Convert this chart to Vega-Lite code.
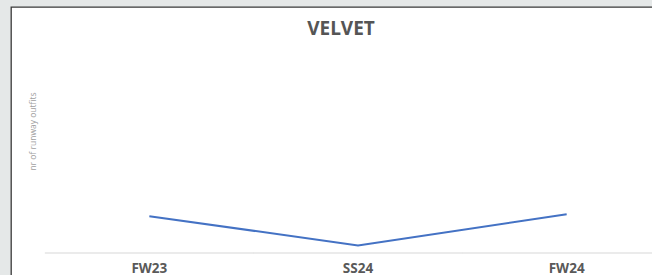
{
  "$schema": "https://vega.github.io/schema/vega-lite/v6.json",
  "width": 660,
  "height": 269,
  "autosize": {"type": "none"},
  "padding": {"left": 11, "top": 7, "right": 0, "bottom": 0},
  "background": "#e5e8e8",
  "config": {
    "view": {"fill": "white", "stroke": "#3a3a3a", "strokeWidth": 1.3},
    "font": "Open Sans"
  },
  "title": {
    "text": "VELVET",
    "anchor": "middle",
    "frame": "group",
    "orient": "top",
    "offset": -47,
    "baseline": "alphabetic",
    "font": "Open Sans",
    "fontSize": 19,
    "fontWeight": "bold",
    "color": "#555555"
  },
  "data": {
    "values": [
      {"season": "FW23", "outfits": 4.6},
      {"season": "SS24", "outfits": 0.95},
      {"season": "FW24", "outfits": 4.85}
    ]
  },
  "encoding": {
    "x": {
      "field": "season",
      "type": "ordinal",
      "sort": null,
      "scale": {"type": "band", "paddingInner": 0, "paddingOuter": 0.0815, "align": 1},
      "axis": {
        "title": null,
        "orient": "bottom",
        "offset": -23,
        "domain": false,
        "ticks": false,
        "labelPadding": 8,
        "labelBaseline": "top",
        "labelAngle": 0,
        "labelFont": "Open Sans",
        "labelFontSize": 13.5,
        "labelFontWeight": "bold",
        "labelColor": "#595959"
      }
    }
  },
  "layer": [
    {
      "mark": {"type": "tick", "size": 209, "thickness": 1.5, "color": "#d9d9d9"},
      "encoding": {
        "y": {"datum": 0, "type": "quantitative"}
      }
    },
    {
      "mark": {"type": "line", "color": "#4472c4", "strokeWidth": 2},
      "encoding": {
        "y": {
          "field": "outfits",
          "type": "quantitative",
          "scale": {"domain": [-2.875, 30.75], "nice": false, "zero": false},
          "axis": {
            "title": "nr of runway outfits",
            "domain": false,
            "ticks": false,
            "labels": false,
            "grid": false,
            "titleX": 21.5,
            "titleY": 124,
            "titleAngle": -90,
            "titleAlign": "center",
            "titleBaseline": "middle",
            "titleFont": "Open Sans",
            "titleFontSize": 8.5,
            "titleFontWeight": "normal",
            "titleColor": "#a0a0a0"
          }
        }
      }
    }
  ]
}
